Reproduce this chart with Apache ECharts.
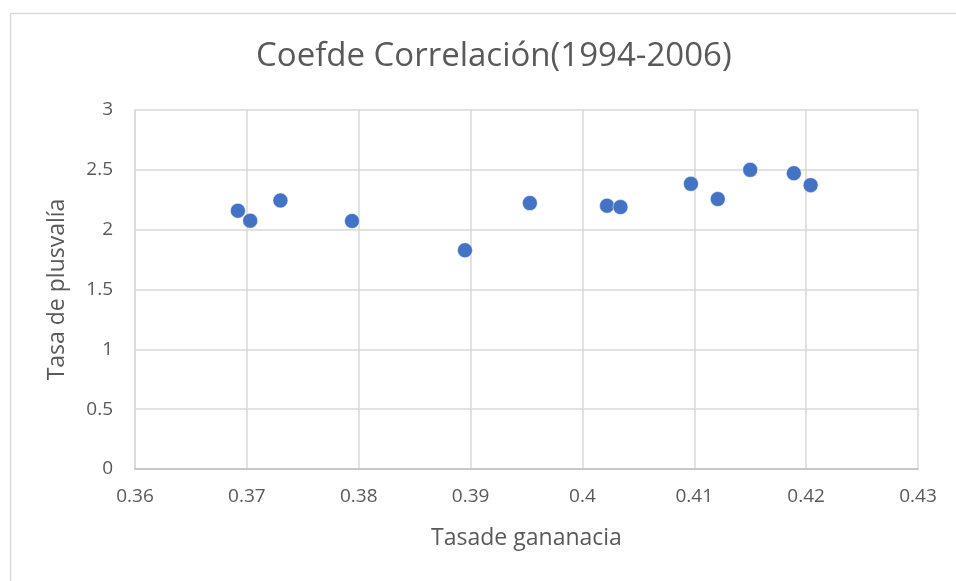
<!DOCTYPE html>
<html>
<head>
<meta charset="utf-8">
<script src="https://cdn.jsdelivr.net/npm/echarts@6/dist/echarts.min.js"></script>
<style>
  html, body { margin: 0; padding: 0; background: #fff; }
  #chart { width: 956px; height: 581px; }
</style>
</head>
<body>
<div id="chart"></div>
<script>
const tasaGanancia = [0.3692, 0.3703, 0.3730, 0.3794, 0.3895, 0.3953, 0.4022, 0.4034, 0.4097, 0.4121, 0.4150, 0.4189, 0.4204]
const tasaPlusvalia = [2.158, 2.075, 2.244, 2.073, 1.828, 2.222, 2.200, 2.189, 2.383, 2.256, 2.500, 2.472, 2.372]

const TITLE = 'Coefde Correlación(1994-2006)'
const X_NAME = 'Tasade gananacia'
const Y_NAME = 'Tasa de plusvalía'

const FONT = '"Open Sans", Lato, sans-serif'
const TXT = '#595959'

const chart = echarts.init(document.getElementById('chart'))

chart.setOption({
  animation: false,
  textStyle: { fontFamily: FONT },
  title: {
    text: TITLE, left: 251, top: 35,
    textStyle: { fontFamily: FONT, fontSize: 33, fontWeight: 'normal', color: TXT }
  },
  graphic: [{
    type: 'rect', left: 8, top: 11,
    shape: { width: 960, height: 580 },
    style: { fill: 'none', stroke: '#d9d9d9', lineWidth: 1.5 },
    silent: true
  }],
  grid: { left: 135, right: 38, top: 110, bottom: 112 },
  xAxis: {
    type: 'value', min: 0.36, max: 0.43, interval: 0.01,
    name: X_NAME, nameLocation: 'middle', nameGap: 58,
    nameTextStyle: { fontFamily: FONT, fontSize: 23, color: TXT },
    axisLine: { show: true, lineStyle: { color: '#bfbfbf', width: 1.5 } },
    axisTick: { show: false },
    axisLabel: { fontFamily: FONT, fontSize: 19, color: TXT, margin: 18 },
    splitLine: { show: true, lineStyle: { color: '#d9d9d9', width: 1.5 } }
  },
  yAxis: {
    type: 'value', min: 0, max: 3, interval: 0.5,
    name: Y_NAME, nameLocation: 'middle', nameGap: 66,
    nameTextStyle: { fontFamily: FONT, fontSize: 23, color: TXT },
    axisLine: { show: true, lineStyle: { color: '#d9d9d9', width: 1.5 } },
    axisTick: { show: false },
    axisLabel: { fontFamily: FONT, fontSize: 19, color: TXT, margin: 22 },
    splitLine: { show: true, lineStyle: { color: '#d9d9d9', width: 1.5 } }
  },
  series: [{
    type: 'scatter',
    data: tasaGanancia.map((x, i) => [x, tasaPlusvalia[i]]),
    symbolSize: 15,
    itemStyle: { color: '#4472C4', borderColor: 'rgba(255,255,255,0.5)', borderWidth: 1, opacity: 1 }
  }]
})
</script>
</body>
</html>
